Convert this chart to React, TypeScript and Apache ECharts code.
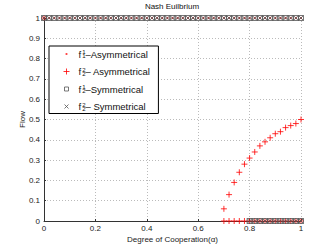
import React, { useEffect, useRef } from "react";
import * as echarts from "echarts";

const FONT = "'Liberation Sans', Arial, Helvetica, sans-serif";

const titleText = "Nash Euilbrium";
const xName = "Degree of Cooperation(α)";
const yName = "Flow";

// alpha values sampled every 0.02
const alphaAll = [
  0, 0.02, 0.04, 0.06, 0.08, 0.1, 0.12, 0.14, 0.16, 0.18, 0.2, 0.22, 0.24, 0.26, 0.28, 0.3, 0.32,
  0.34, 0.36, 0.38, 0.4, 0.42, 0.44, 0.46, 0.48, 0.5, 0.52, 0.54, 0.56, 0.58, 0.6, 0.62, 0.64,
  0.66, 0.68, 0.7, 0.72, 0.74, 0.76, 0.78, 0.8, 0.82, 0.84, 0.86, 0.88, 0.9, 0.92, 0.94, 0.96,
  0.98, 1.0,
];
const onesAll = [
  1, 1, 1, 1, 1, 1, 1, 1, 1, 1, 1, 1, 1, 1, 1, 1, 1, 1, 1, 1, 1, 1, 1, 1, 1, 1, 1, 1, 1, 1, 1, 1,
  1, 1, 1, 1, 1, 1, 1, 1, 1, 1, 1, 1, 1, 1, 1, 1, 1, 1, 1,
];
const alphaHigh = [0.7, 0.72, 0.74, 0.76, 0.78, 0.8, 0.82, 0.84, 0.86, 0.88, 0.9, 0.92, 0.94, 0.96, 0.98, 1.0];
const f22AsymCurve = [0.06, 0.13, 0.19, 0.24, 0.28, 0.31, 0.34, 0.37, 0.39, 0.41, 0.43, 0.44, 0.46, 0.47, 0.48, 0.5];
const f22AsymZero = [0, 0, 0, 0, 0, 0, 0, 0, 0, 0, 0, 0, 0, 0, 0, 0];
const f22AsymStartX = [0];
const f22AsymStartY = [1];
const alphaSymLow = [0.8, 0.82, 0.84, 0.86, 0.88, 0.9, 0.92, 0.94, 0.96, 0.98, 1.0];
const symLow = [0, 0, 0, 0, 0, 0, 0, 0, 0, 0, 0];

const legendNames = ["f11-Asymmetrical", "f22-Asymmetrical", "f21-Symmetrical", "f22-Symmetrical"];
const legendRich = [
  "{f|f}{sp|1}{sb|1}{t|–Asymmetrical}",
  "{f|f}{sp|2}{sb|2}{t|– Asymmetrical}",
  "{f|f}{sp|1}{sb|2}{t|–Symmetrical}",
  "{f|f}{sp|2}{sb|2}{t|– Symmetrical}",
];

const pair = (xs: number[], ys: number[]) => xs.map((x, i) => [x, ys[i]]);

const PLUS = "path://M0,-1V1M-1,0H1";
const CROSS = "path://M-1,-1L1,1M-1,1L1,-1";
const DOT_ICON = "path://M-3,-3M3,3M-0.9,-0.9H0.9V0.9H-0.9Z";
const RECT_ICON = "path://M-3,-3M3,3M-2,-2H2V2H-2Z";
const CROSS_ICON = "path://M-3,-3M3,3M-2,-2L2,2M-2,2L2,-2";

export default function App() {
  const ref = useRef<HTMLDivElement>(null);
  useEffect(() => {
    document.body.style.margin = "0";
    if (!ref.current) return;
    const chart = echarts.init(ref.current, null, { renderer: "svg" });
    const axisCommon = {
      axisLine: { show: true, lineStyle: { color: "#333", width: 1 } },
      axisTick: { show: true, inside: true, length: 2, lineStyle: { color: "#333" } },
      axisLabel: { color: "#222", fontSize: 8, fontFamily: FONT },
      splitLine: { show: true, lineStyle: { color: "#bbb", width: 1, type: [1, 2] } },
      nameTextStyle: { color: "#222", fontSize: 8, fontFamily: FONT },
      nameMoveOverlap: false,
    };
    chart.setOption({
      animation: false,
      backgroundColor: "#fff",
      textStyle: { fontFamily: FONT },
      title: {
        text: titleText,
        left: 172,
        top: 2,
        textAlign: "center",
        padding: 0,
        textStyle: { fontSize: 8, fontWeight: "normal", color: "#111", fontFamily: FONT },
      },
      grid: { left: 44, right: 31, top: 18, bottom: 29, containLabel: false },
      xAxis: {
        type: "value",
        min: 0,
        max: 1,
        interval: 0.2,
        name: xName,
        nameLocation: "middle",
        nameGap: 14,
        ...axisCommon,
        axisLabel: { ...axisCommon.axisLabel, margin: 3 },
      },
      yAxis: {
        type: "value",
        min: 0,
        max: 1,
        interval: 0.1,
        name: yName,
        nameLocation: "middle",
        nameGap: 18,
        ...axisCommon,
        axisLabel: { ...axisCommon.axisLabel, margin: 4 },
      },
      legend: {
        orient: "vertical",
        left: 49,
        top: 46,
        padding: [3, 8, 2, 14],
        itemWidth: 6,
        itemHeight: 6,
        itemGap: 7.5,
        borderColor: "#000",
        borderWidth: 1,
        backgroundColor: "#fff",
        selectedMode: false,
        formatter: (name: string) => legendRich[legendNames.indexOf(name)],
        textStyle: {
          color: "#111",
          fontFamily: FONT,
          fontSize: 9.5,
          lineHeight: 10,
          rich: {
            f: { fontSize: 9.5, lineHeight: 10, padding: [0, 1, 0, 4], fontFamily: FONT, color: "#111" },
            sp: { fontSize: 6, verticalAlign: "top", width: 0.01, fontFamily: FONT, color: "#111" },
            sb: { fontSize: 6, verticalAlign: "bottom", fontFamily: FONT, color: "#111" },
            t: { fontSize: 9.5, lineHeight: 10, fontFamily: FONT, color: "#111" },
          },
        },
        data: [
          { name: legendNames[0], icon: DOT_ICON },
          { name: legendNames[1], icon: PLUS, itemStyle: { borderWidth: 1 } },
          { name: legendNames[2], icon: RECT_ICON, itemStyle: { borderWidth: 1 } },
          { name: legendNames[3], icon: CROSS_ICON, itemStyle: { borderWidth: 1 } },
        ],
      },
      series: [
        {
          name: legendNames[0],
          type: "scatter",
          clip: false,
          symbol: "circle",
          symbolSize: 2,
          itemStyle: { color: "#ff0000" },
          data: pair(alphaAll, onesAll),
        },
        {
          name: legendNames[1],
          type: "scatter",
          clip: false,
          symbol: PLUS,
          symbolSize: 6,
          itemStyle: { color: "transparent", borderColor: "#ff0000", borderWidth: 1 },
          data: [
            ...pair(f22AsymStartX, f22AsymStartY),
            ...pair(alphaHigh, f22AsymCurve),
            ...pair(alphaHigh, f22AsymZero),
          ],
        },
        {
          name: legendNames[2],
          type: "scatter",
          clip: false,
          symbol: "rect",
          symbolSize: 5,
          itemStyle: { color: "transparent", borderColor: "#555", borderWidth: 1 },
          data: [...pair(alphaAll, onesAll), ...pair(alphaSymLow, symLow)],
        },
        {
          name: legendNames[3],
          type: "scatter",
          clip: false,
          symbol: CROSS,
          symbolSize: 5,
          itemStyle: { color: "transparent", borderColor: "#555", borderWidth: 1 },
          data: [...pair(alphaAll, onesAll), ...pair(alphaSymLow, symLow)],
        },
      ],
    });
    return () => chart.dispose();
  }, []);
  return <div ref={ref} style={{ width: 332, height: 250 }} />;
}
